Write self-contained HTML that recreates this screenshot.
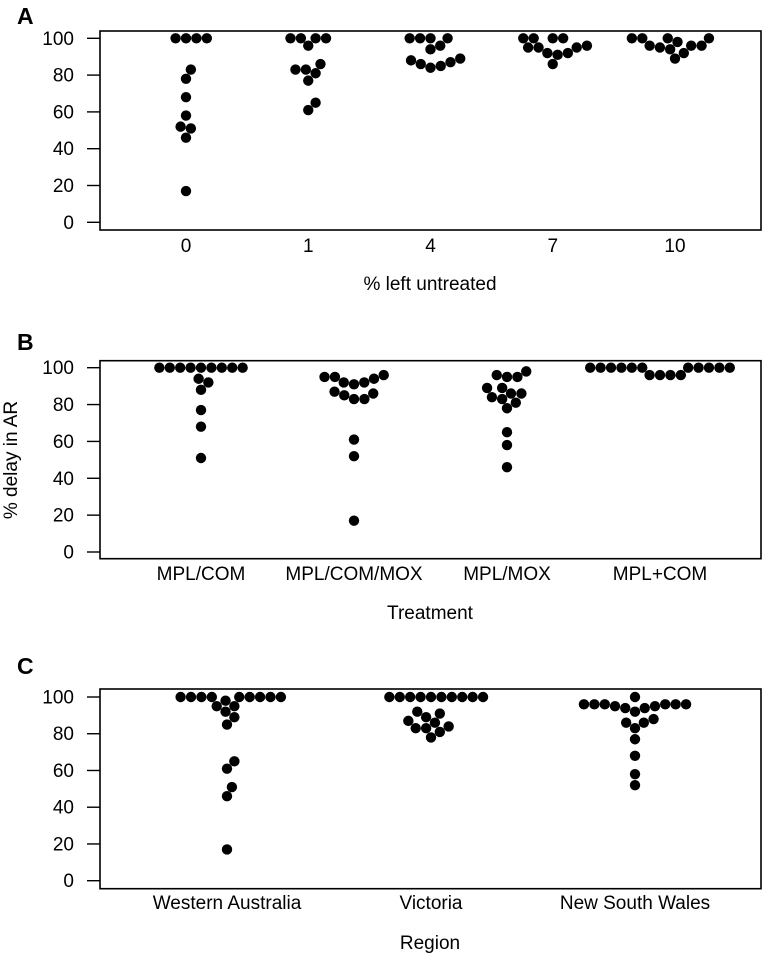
<!DOCTYPE html>
<html><head><meta charset="utf-8"><style>
body{margin:0;background:#fff;}
svg{display:block;font-family:"Liberation Sans",Arial,sans-serif;}
</style></head><body>
<svg id="chart" width="763" height="955" xmlns="http://www.w3.org/2000/svg"></svg>
<script>
// Panel A data
const catsA = ["0","1","4","7","10"];
const valsA = [
  [100,100,100,100,83,78,68,58,52,51,46,17],
  [100,100,100,100,96,86,83,83,81,77,65,61],
  [100,100,100,100,96,94,89,88,87,86,85,84],
  [100,100,100,100,96,95,95,95,92,92,91,86],
  [100,100,100,100,98,96,96,96,95,94,92,89]
];
// Panel B data
const catsB = ["MPL/COM","MPL/COM/MOX","MPL/MOX","MPL+COM"];
const valsB = [
  [100,100,100,100,100,100,100,100,100,94,92,88,77,68,51],
  [96,95,95,94,92,92,91,87,86,85,83,83,61,52,17],
  [98,96,95,95,89,89,86,86,84,83,81,78,65,58,46],
  [100,100,100,100,100,100,100,100,100,100,100,96,96,96,96]
];
// Panel C data
const catsC = ["Western Australia","Victoria","New South Wales"];
const valsC = [
  [100,100,100,100,100,100,100,100,100,98,95,95,92,89,85,65,61,51,46,17],
  [100,100,100,100,100,100,100,100,100,100,92,91,89,87,86,84,83,83,81,78],
  [100,96,96,96,96,96,96,95,95,94,94,92,88,86,86,83,77,68,58,52]
];
const yTicks = [0,20,40,60,80,100];

const svg = document.getElementById('chart');
const NS = "http://www.w3.org/2000/svg";
function mk(tag, attrs, parent){
  const e = document.createElementNS(NS, tag);
  for (const k in attrs) e.setAttribute(k, attrs[k]);
  (parent||svg).appendChild(e);
  return e;
}
const R = 5.2, D = 10.4;

function swarm(vals, yScale){
  const order = vals.map((v,i)=>i).sort((a,b)=>vals[a]-vals[b]);
  const placed = []; const xs = new Array(vals.length);
  for (const i of order){
    const y = yScale(vals[i]);
    const cands = [0];
    for (const p of placed){
      const dy = Math.abs(p.y - y);
      if (dy < D){ const dx = Math.sqrt(D*D - dy*dy)+0.01; cands.push(p.x+dx, p.x-dx); }
    }
    cands.sort((a,b)=>Math.abs(a)-Math.abs(b) || b-a);
    let best = 0;
    for (const c of cands){
      if (placed.every(p => (p.x-c)**2 + (p.y-y)**2 >= D*D - 0.01)){ best = c; break; }
    }
    placed.push({x:best,y:y}); xs[i] = best;
  }
  return xs;
}

function panel(o){
  const g = mk('g', {});
  
  
  const yScale = v => o.y0 + (o.y100 - o.y0) * v / 100;
  const xScale = i => o.x0 + i * o.dx;
  const letter = mk('text', {x:17, y:o.letterY, 'font-size':23, 'font-weight':'bold'}, g);
  letter.textContent = o.letter;
  
  
  const box = mk('rect', {x:100, y:o.top, width:661, height:o.bottom-o.top, fill:'none', stroke:'#000', 'stroke-width':1.6}, g);
  
  
  yTicks.forEach(t => {
    const y = yScale(t);
    const tk = mk('line', {x1:87, x2:100, y1:y, y2:y, stroke:'#000', 'stroke-width':1.4}, g);
    
    
    const tl = mk('text', {x:74, y:y+6.5, 'font-size':19, 'text-anchor':'end'}, g);
    tl.textContent = t;
    
    
  });
  o.cats.forEach((c,i) => {
    const cl = mk('text', {x:xScale(i), y:o.catY, 'font-size':19, 'text-anchor':'middle'}, g);
    cl.textContent = c;
    
    
    const xs = swarm(o.vals[i], yScale);
    o.vals[i].forEach((v,j) => {
      const dot = mk('circle', {cx:xScale(i)+xs[j], cy:yScale(v), r:R, fill:'#000'}, g);
      
      
    });
  });
  const xt = mk('text', {x:430, y:o.titleY, 'font-size':19, 'text-anchor':'middle'}, g);
  xt.textContent = o.title;
  
  
}

panel({name:'panel-a', letter:'A', letterY:24, top:31, bottom:230, y0:222.3, y100:38.3,
  x0:186, dx:122.25, cats:catsA, vals:valsA, catY:252, title:'% left untreated', titleY:290});
panel({name:'panel-b', letter:'B', letterY:350, top:360.7, bottom:558.7, y0:552, y100:367.7,
  x0:201, dx:153, cats:catsB, vals:valsB, catY:580, title:'Treatment', titleY:619});
panel({name:'panel-c', letter:'C', letterY:674, top:689, bottom:888.7, y0:880.7, y100:697,
  x0:227, dx:204, cats:catsC, vals:valsC, catY:909, title:'Region', titleY:949});

const yt = mk('text', {x:0, y:0, 'font-size':19, 'text-anchor':'middle', transform:'translate(17,460) rotate(-90)'});
yt.textContent = '% delay in AR';


</script>
</body></html>
